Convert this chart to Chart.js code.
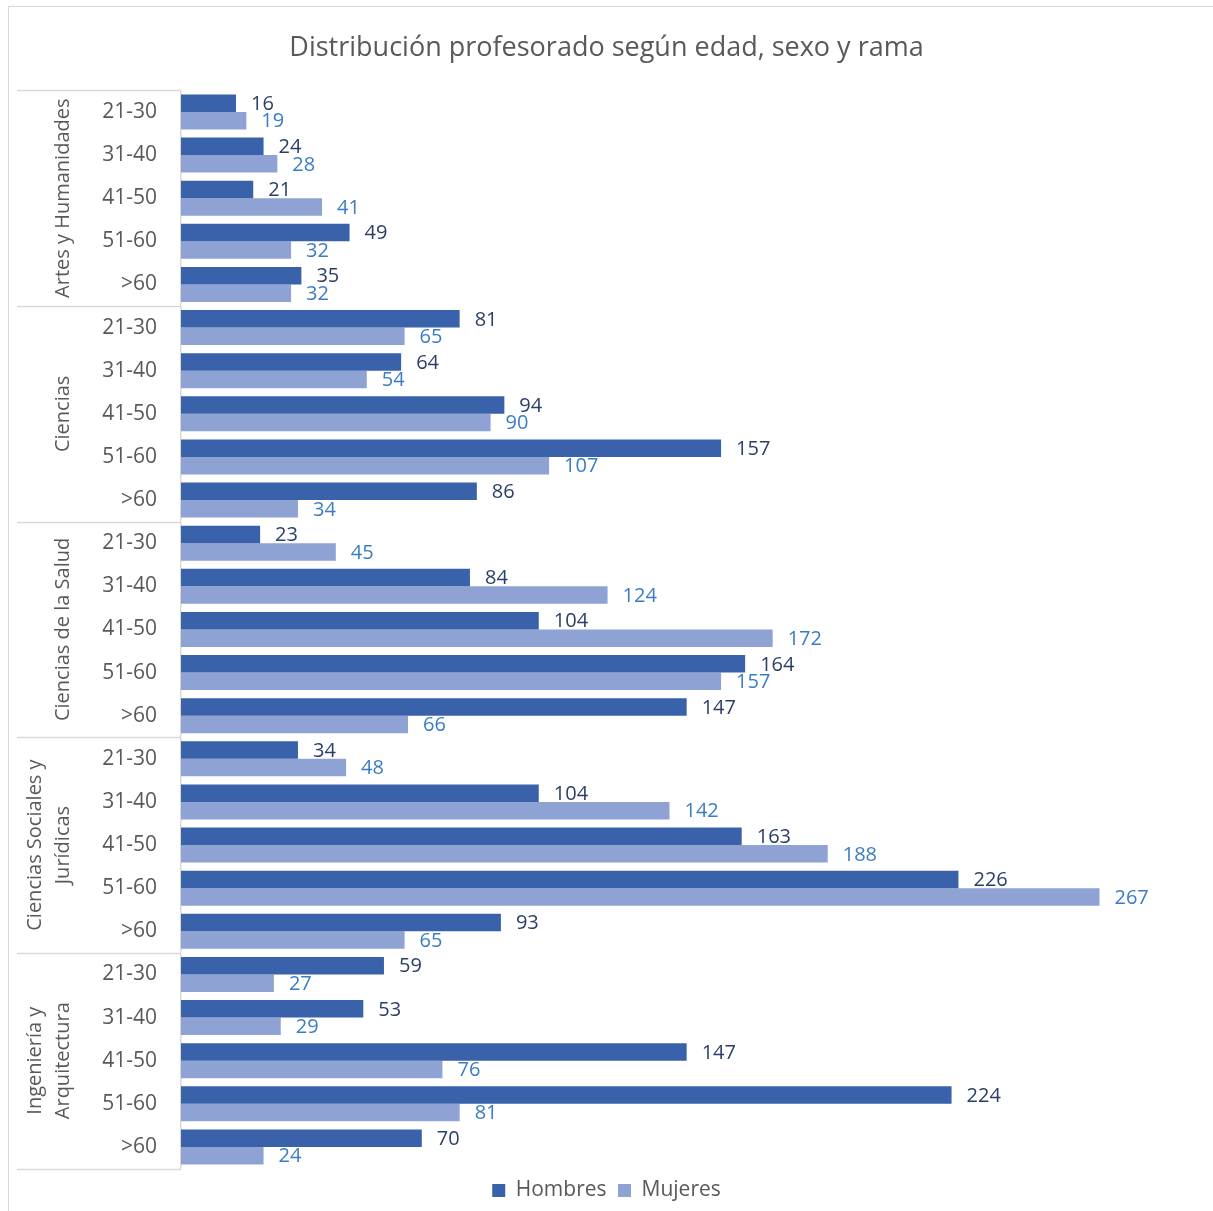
<!DOCTYPE html>
<html>
<head>
<meta charset="utf-8">
<script src="https://cdn.jsdelivr.net/npm/chart.js@4.4.1/dist/chart.umd.min.js"></script>
<style>
  html, body { margin: 0; padding: 0; background: #fff; }
  #wrap { width: 1213px; height: 1211px; }
</style>
</head>
<body>
<div id="wrap"><canvas id="chart1"></canvas></div>
<script>
// datos
ramas = ['Artes y Humanidades', 'Ciencias', 'Ciencias de la Salud', ['Ciencias Sociales y', 'Jurídicas'], ['Ingeniería y', 'Arquitectura']];
edades = ['21-30', '31-40', '41-50', '51-60', '>60'];
hombres = [16, 24, 21, 49, 35,  81, 64, 94, 157, 86,  23, 84, 104, 164, 147,  34, 104, 163, 226, 93,  59, 53, 147, 224, 70];
mujeres = [19, 28, 41, 32, 32,  65, 54, 90, 107, 34,  45, 124, 172, 157, 66,  48, 142, 188, 267, 65,  27, 29, 76, 81, 24];

const FONT = 'Open Sans';
const GREY = '#595959';

labels = [];
ramas.forEach(function(r){
    edades.forEach(function(e){ labels.push(e); });
});

const frame = {
    id: 'frame',
    beforeDraw(chart){
        const ctx = chart.ctx;
        ctx.save();
        ctx.fillStyle = '#fff';
        ctx.fillRect(0, 0, chart.width, chart.height);
        ctx.strokeStyle = '#D9D9D9';
        ctx.lineWidth = 1;
        ctx.strokeRect(8.5, 6.5, 1400, 1400);
        ctx.restore();
    }
};

// lineas y nombres de rama a la izquierda
const groupLabels = {
    id: 'groupLabels',
    afterDraw(chart){
        const ctx = chart.ctx;
        const y = chart.scales.y;
        ctx.save();
        ctx.strokeStyle = '#D9D9D9';
        ctx.lineWidth = 1.5;
        for(i = 0; i <= ramas.length; i++){
            py = Math.round(y.getPixelForValue(i * 5 - 0.5)) + 0.5;
            ctx.beginPath();
            ctx.moveTo(17, py);
            ctx.lineTo(y.right, py);
            ctx.stroke();
        }
        ctx.fillStyle = GREY;
        ctx.font = '20px "' + FONT + '"';
        ctx.textAlign = 'center';
        ctx.textBaseline = 'middle';
        ramas.forEach(function(r, g){
            lines = Array.isArray(r) ? r : [r];
            cy = (y.getPixelForValue(g * 5 - 0.5) + y.getPixelForValue(g * 5 + 4.5)) / 2;
            lines.forEach(function(t, k){
                cx = 63 - (lines.length - 1 - k) * 28;
                ctx.save();
                ctx.translate(cx, cy);
                ctx.rotate(-Math.PI / 2);
                ctx.fillText(t, 0, 0);
                ctx.restore();
            });
        });
        ctx.restore();
    }
};

// etiquetas de valor
const valueLabels = {
    id: 'valueLabels',
    afterDatasetsDraw(chart){
        const ctx = chart.ctx;
        const colors = ['#2B3F66', '#3B7DC4'];
        ctx.save();
        ctx.font = '20px "' + FONT + '"';
        ctx.textAlign = 'left';
        ctx.textBaseline = 'middle';
        chart.data.datasets.forEach(function(ds, d){
            meta = chart.getDatasetMeta(d);
            ctx.fillStyle = colors[d];
            meta.data.forEach(function(bar, i){
                ctx.fillText(ds.data[i], bar.x + 15, bar.y + 1);
            });
        });
        ctx.restore();
    }
};

chart1 = new Chart(document.querySelector('canvas#chart1').getContext('2d'), {
    type: 'bar',
    data: {
        labels: labels,
        datasets: [
            { label: 'Hombres', data: hombres, backgroundColor: '#3A62AB', borderWidth: 0 },
            { label: 'Mujeres', data: mujeres, backgroundColor: '#8FA2D4', borderWidth: 0 }
        ]
    },
    options: {
        indexAxis: 'y',
        responsive: true,
        maintainAspectRatio: false,
        animation: false,
        events: [],
        layout: { padding: { left: 0, right: 0, top: 0, bottom: 0 } },
        datasets: { bar: { categoryPercentage: 0.81, barPercentage: 1.0 } },
        scales: {
            x: { display: false, min: 0, max: 300 },
            y: {
                grid: { display: false },
                border: { display: true, color: '#D9D9D9', width: 1.5 },
                ticks: { color: GREY, font: { family: FONT, size: 21 }, padding: 16, autoSkip: false },
                afterFit: function(scale){ scale.width = 181; }
            }
        },
        plugins: {
            title: {
                display: true,
                text: 'Distribución profesorado según edad, sexo y rama',
                color: GREY,
                font: { family: FONT, size: 27, weight: 'normal' },
                padding: { top: 32, bottom: 26 }
            },
            legend: {
                position: 'bottom',
                labels: {
                    color: GREY,
                    font: { family: FONT, size: 21 },
                    boxWidth: 13,
                    boxHeight: 13,
                    padding: 11.5
                }
            },
            tooltip: { enabled: false }
        }
    },
    plugins: [frame, groupLabels, valueLabels]
});
</script>
</body>
</html>
